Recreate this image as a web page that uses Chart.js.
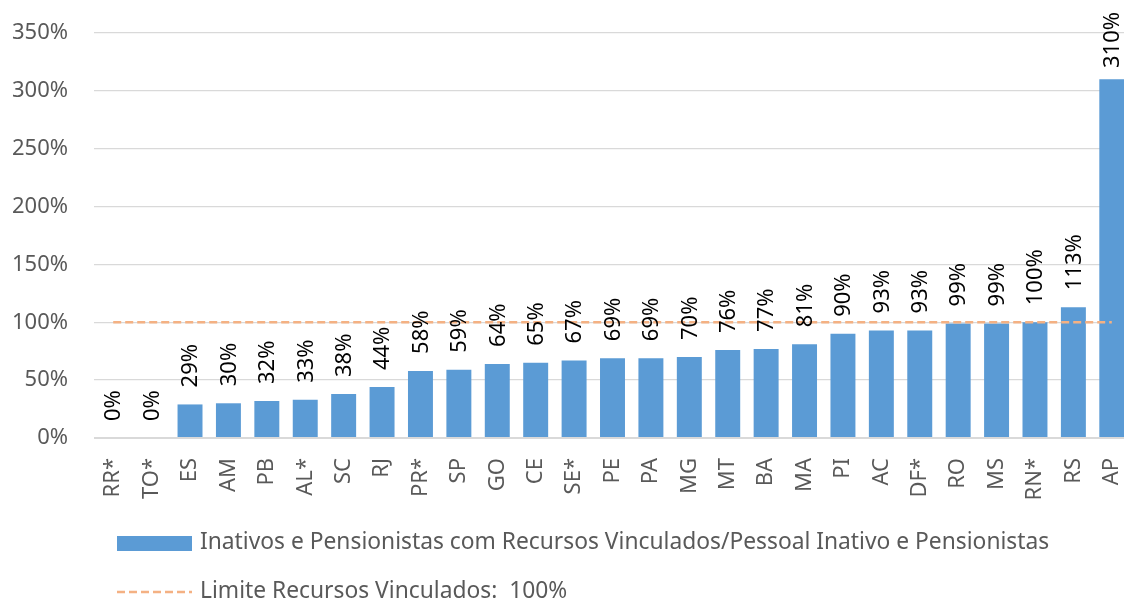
<!DOCTYPE html>
<html>
<head>
<meta charset="utf-8">
<script src="https://cdn.jsdelivr.net/npm/chart.js@4.4.1/dist/chart.umd.min.js"></script>
<style>
  html, body { margin: 0; padding: 0; background: #fff; overflow: hidden; }
  #wrap { position: relative; width: 1131px; height: 603px; }
</style>
</head>
<body>
<div id="wrap"><canvas id="c" width="1131" height="603"></canvas></div>
<script>
const categories = ["RR*","TO*","ES","AM","PB","AL*","SC","RJ","PR*","SP","GO","CE","SE*","PE","PA","MG","MT","BA","MA","PI","AC","DF*","RO","MS","RN*","RS","AP"];
const ratioValues = [0,0,29,30,32,33,38,44,58,59,64,65,67,69,69,70,76,77,81,90,93,93,99,99,100,113,310];
const limitValues = [100,100,100,100,100,100,100,100,100,100,100,100,100,100,100,100,100,100,100,100,100,100,100,100,100,100,100];
const yTicks = [0,50,100,150,200,250,300,350];
const barLabel = "Inativos e Pensionistas com Recursos Vinculados/Pessoal Inativo e Pensionistas";
const lineLabel = "Limite Recursos Vinculados:  100%";

const FONT = "'Noto Sans', 'Open Sans', sans-serif";
const BLUE = "#5B9BD5";
const ORANGE = "#F4B183";
const GRAY = "#595959";

const dataLabels = {
  id: "dataLabels",
  afterDatasetsDraw(chart) {
    const ctx = chart.ctx;
    const meta = chart.getDatasetMeta(0);
    ctx.save();
    ctx.font = "22px " + FONT;
    ctx.fillStyle = "#000";
    meta.data.forEach((bar, i) => {
      const txt = Math.round(ratioValues[i]) + "%";
      const w = ctx.measureText(txt).width;
      let start = bar.y - 17;
      if (start - w < 12) start = 12 + w;
      ctx.save();
      ctx.translate(bar.x, start);
      ctx.rotate(-Math.PI / 2);
      ctx.textAlign = "left";
      ctx.textBaseline = "middle";
      ctx.fillText(txt, 0, 1);
      ctx.restore();
    });
    ctx.restore();
  }
};

const customLegend = {
  id: "customLegend",
  afterDraw(chart) {
    const ctx = chart.ctx;
    ctx.save();
    ctx.fillStyle = BLUE;
    ctx.fillRect(117, 536, 75, 15);
    ctx.strokeStyle = ORANGE;
    ctx.lineWidth = 2.5;
    ctx.setLineDash([8, 4]);
    ctx.beginPath();
    ctx.moveTo(117, 592);
    ctx.lineTo(192, 592);
    ctx.stroke();
    ctx.setLineDash([]);
    ctx.font = "22.8px " + FONT;
    ctx.fillStyle = GRAY;
    ctx.textAlign = "left";
    ctx.textBaseline = "middle";
    ctx.fillText(barLabel, 200, 543);
    ctx.fillText(lineLabel, 200, 592);
    ctx.restore();
  }
};

new Chart(document.getElementById("c"), {
  data: {
    labels: categories,
    datasets: [
      {
        type: "bar",
        label: barLabel,
        data: ratioValues,
        backgroundColor: BLUE,
        categoryPercentage: 1,
        barPercentage: 0.65,
        order: 1
      },
      {
        type: "line",
        label: lineLabel,
        data: limitValues,
        borderColor: ORANGE,
        borderWidth: 2.5,
        borderDash: [8, 4],
        pointRadius: 0,
        fill: false,
        order: 0
      }
    ]
  },
  options: {
    responsive: false,
    animation: false,
    layout: { padding: { top: 33, bottom: 95, left: 0, right: 0 } },
    plugins: { legend: { display: false }, tooltip: { enabled: false } },
    scales: {
      x: {
        offset: true,
        grid: { display: false },
        border: { display: false },
        ticks: {
          color: GRAY,
          font: { family: FONT, size: 22 },
          minRotation: 90,
          maxRotation: 90,
          autoSkip: false,
          padding: 12
        },
        afterFit(scale) {
          scale.height = 70;
          scale.paddingLeft = 0; scale.paddingRight = 0;
          scale.paddingTop = 0; scale.paddingBottom = 0;
        }
      },
      y: {
        min: 0,
        max: 350,
        afterBuildTicks(scale) { scale.ticks = yTicks.map(v => ({ value: v })); },
        grid: {
          color: "#D9D9D9",
          lineWidth: c => (c.tick && c.tick.value === 0 ? 2 : 1.3),
          drawTicks: false
        },
        border: { display: false },
        ticks: {
          color: GRAY,
          font: { family: FONT, size: 22 },
          padding: 26,
          callback: v => v + "%"
        },
        afterFit(scale) {
          scale.width = 94;
          scale.paddingLeft = 0; scale.paddingRight = 0;
          scale.paddingTop = 0; scale.paddingBottom = 0;
        }
      }
    }
  },
  plugins: [dataLabels, customLegend]
});
</script>
</body>
</html>
